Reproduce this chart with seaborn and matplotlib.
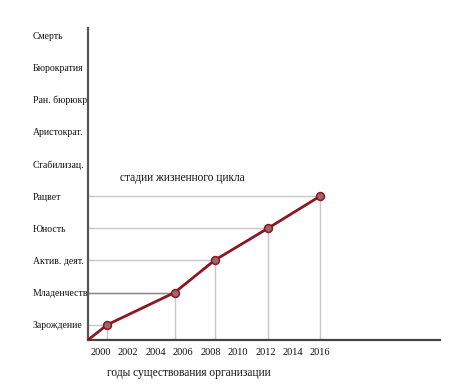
import matplotlib
matplotlib.use('Agg')
import matplotlib.pyplot as plt
import seaborn as sns
import pandas as pd

# стадии жизненного цикла (снизу вверх)
stages = ['Зарождение', 'Младенчеств', 'Актив. деят.', 'Юность', 'Рацвет',
          'Стабилизац.', 'Аристократ.', 'Ран. бюрюкр', 'Бюрократия', 'Смерть']
stage_levels = list(range(1, len(stages) + 1))

# точки на графике
years = [2000.5, 2005.4, 2008.3, 2012.2, 2016.0]
levels = [1, 2, 3, 4, 5]

# начало линии в углу осей
start_year = 1999.1
start_level = 0.53

year_ticks = [2000, 2002, 2004, 2006, 2008, 2010, 2012, 2014, 2016]

sns.set_style('white')
plt.rcParams['font.family'] = ['Liberation Serif', 'DejaVu Serif']

df = pd.DataFrame({'year': [start_year] + years, 'stage': [start_level] + levels})

fig = plt.figure(figsize=(4.66, 3.84), dpi=100)
ax = fig.add_axes([0.189, 0.115, 0.755, 0.812])

# линии-проекции
ax.hlines(levels, start_year, years, color='#c8c8c8', lw=1.0, zorder=1)
ax.vlines(years, start_level, levels, color='#c8c8c8', lw=1.0, zorder=1)
ax.hlines(levels[1], start_year, years[1], color='#888888', lw=1.0, zorder=1)

sns.lineplot(data=df, x='year', y='stage', ax=ax, color='#8e1522', lw=2, zorder=3)
sns.scatterplot(x=years, y=levels, ax=ax, s=32, color='#9c6570',
                edgecolor='#8e1522', linewidth=1.1, zorder=4)

ax.set_xlim(start_year, 2024.7)
ax.set_ylim(start_level, 10.22)
ax.set_xticks(year_ticks)
ax.set_xticklabels([str(y) for y in year_ticks], fontsize=7.5, color='#111111')
ax.set_yticks(stage_levels)
ax.set_yticklabels(stages, fontsize=7, color='#111111')
for lab in ax.get_yticklabels():
    lab.set_horizontalalignment('left')
ax.tick_params(axis='y', length=0, pad=40)
ax.tick_params(axis='x', length=0, pad=6)

ax.set_xlabel('')
ax.set_ylabel('')
for s in ['top', 'right']:
    ax.spines[s].set_visible(False)
ax.spines['left'].set_color('#555555')
ax.spines['left'].set_linewidth(1.6)
ax.spines['bottom'].set_color('#444444')
ax.spines['bottom'].set_linewidth(1.6)

fig.text(120 / 466, 1 - 178 / 384, 'стадии жизненного цикла', fontsize=8.3,
         va='center', ha='left', color='#111111')
fig.text(107 / 466, 1 - 373 / 384, 'годы существования организации', fontsize=8.3,
         va='center', ha='left', color='#111111')

fig.savefig('out.png', dpi=100)
